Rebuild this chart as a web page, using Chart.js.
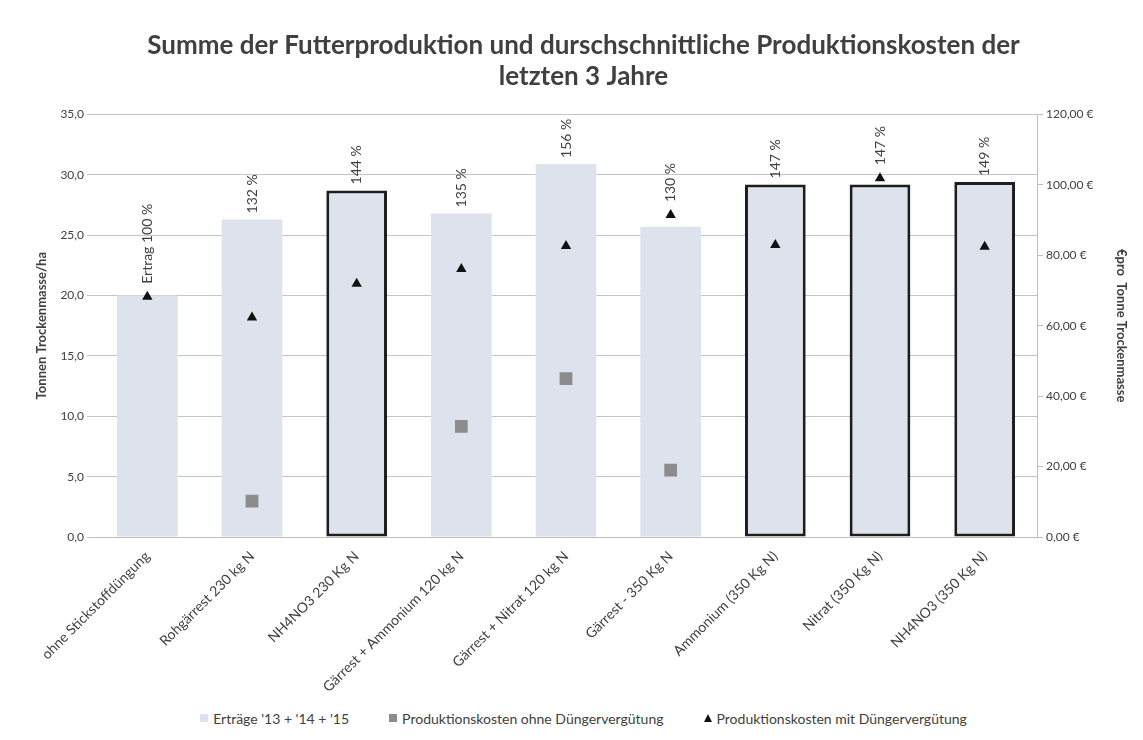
<!DOCTYPE html>
<html>
<head>
<meta charset="utf-8">
<script src="https://cdn.jsdelivr.net/npm/chart.js@4/dist/chart.umd.min.js"></script>
<style>
  body { margin: 0; background: #fff; font-family: Lato, 'Open Sans', sans-serif; }
  #box { width: 1143px; height: 700px; position: relative; }
  #legende { width: 1143px; height: 40px; display: flex; justify-content: center; align-items: center;
             gap: 40px; padding-left: 24px; box-sizing: border-box; font-size: 14px; color: #404040; margin-top: -2px; }
  #legende span.item { display: flex; align-items: center; white-space: nowrap; }
  #legende i { display: inline-block; margin-right: 5px; }
</style>
</head>
<body>
<div id="box"><canvas id="myChart"></canvas></div>
<div id="legende"></div>
<script>
// Kategorien (Düngervarianten)
const kategorien = [
    "ohne Stickstoffdüngung",
    "Rohgärrest 230 kg N",
    "NH4NO3 230 Kg N",
    "Gärrest + Ammonium 120 kg N",
    "Gärrest + Nitrat 120 kg N",
    "Gärrest - 350 Kg N",
    "Ammonium (350 Kg N)",
    "Nitrat (350 Kg N)",
    "NH4NO3 (350 Kg N)"
];

// Erträge in t TM/ha (Summe 3 Jahre)
const ertraege = [20.0, 26.3, 28.7, 26.8, 30.9, 25.7, 29.2, 29.2, 29.4];

// Kosten in € pro Tonne TM
const kostenOhne = [null, 10.2, null, 31.4, 45.0, 19.0, null, null, null];
const kostenMit = [68.2, 62.3, 71.9, 76.1, 82.6, 91.4, 82.9, 101.9, 82.4];

// Beschriftung über den Balken
const prozentLabels = ["Ertrag 100 %", "132 %", "144 %", "135 %", "156 %", "130 %", "147 %", "147 %", "149 %"];

const fontName = "Lato, 'Open Sans', sans-serif";
const grau = "#404040";

// zeichnet die Prozentwerte senkrecht über Balken/Dreieck
const prozentPlugin = {
    id: "prozent",
    afterDatasetsDraw(chart) {
        const ctx = chart.ctx;
        const balken = chart.getDatasetMeta(0).data;
        const dreiecke = chart.getDatasetMeta(2).data;
        ctx.save();
        ctx.font = "14px " + fontName;
        ctx.fillStyle = grau;
        ctx.textAlign = "left";
        ctx.textBaseline = "middle";
        balken.forEach((bar, i) => {
            const oben = Math.min(bar.y, dreiecke[i].y - 7) - 6;
            ctx.save();
            ctx.translate(bar.x, oben);
            ctx.rotate(-Math.PI / 2);
            ctx.fillText(prozentLabels[i], 0, 0);
            ctx.restore();
        });
        ctx.restore();
    }
};

const hervorgehoben = [2, 6, 7, 8];

const ctx = document.getElementById("myChart");
const chart = new Chart(ctx, {
    type: "bar",
    data: {
        labels: kategorien,
        datasets: [
            {
                label: "Erträge '13 + '14 + '15",
                data: ertraege,
                yAxisID: "y",
                backgroundColor: "#dde2ec",
                borderColor: "#1e1e1e",
                borderWidth: (c) => hervorgehoben.includes(c.dataIndex) ? 3 : 0,
                borderSkipped: false,
                barPercentage: 0.58,
                categoryPercentage: 1,
                order: 3
            },
            {
                type: "line",
                label: "Produktionskosten ohne Düngervergütung",
                data: kostenOhne,
                yAxisID: "y1",
                showLine: false,
                pointStyle: "rect",
                pointRadius: 9,
                backgroundColor: "#8c8c8c",
                borderColor: "#8c8c8c",
                borderWidth: 0,
                order: 2
            },
            {
                type: "line",
                label: "Produktionskosten mit Düngervergütung",
                data: kostenMit,
                yAxisID: "y1",
                showLine: false,
                pointStyle: "triangle",
                pointRadius: 6,
                backgroundColor: "#111",
                borderColor: "#111",
                borderWidth: 0,
                order: 1
            }
        ]
    },
    options: {
        responsive: true,
        maintainAspectRatio: false,
        animation: false,
        layout: { padding: { left: 34, right: 10, top: 0, bottom: 1 } },
        plugins: {
            title: {
                display: true,
                text: ["Summe der Futterproduktion und durschschnittliche Produktionskosten der", "letzten 3 Jahre"],
                color: grau,
                font: { family: fontName, size: 26, weight: "bold", lineHeight: 1.2 },
                padding: { top: 30, bottom: 22 }
            },
            legend: { display: false },
            tooltip: { enabled: false }
        },
        scales: {
            x: {
                grid: { display: false },
                border: { color: "#bdbdbd" },
                ticks: {
                    color: grau,
                    font: { family: fontName, size: 14 },
                    maxRotation: 45,
                    minRotation: 45,
                    autoSkip: false
                },
                afterFit: (s) => { s.height = 162; }
            },
            y: {
                position: "left",
                min: 0,
                max: 35,
                ticks: {
                    stepSize: 5,
                    color: grau,
                    font: { family: fontName, size: 12 },
                    callback: (v) => v.toFixed(1).replace(".", ",")
                },
                grid: { color: "#c4c4c4", tickLength: 8 },
                border: { display: false },
                title: {
                    display: true,
                    text: "Tonnen Trockenmasse/ha",
                    color: grau,
                    padding: { top: 0, bottom: 8 },
                    font: { family: fontName, size: 13, weight: "bold" }
                },
                afterFit: (s) => { s.width = 61; }
            },
            y1: {
                position: "right",
                min: 0,
                max: 120,
                ticks: {
                    stepSize: 20,
                    color: grau,
                    font: { family: fontName, size: 12 },
                    callback: (v) => v.toFixed(2).replace(".", ",") + " €"
                },
                grid: { drawOnChartArea: false, color: "#bdbdbd", tickLength: 6 },
                border: { color: "#bdbdbd" },
                title: {
                    display: true,
                    text: "€pro  Tonne Trockenmasse",
                    color: grau,
                    font: { family: fontName, size: 13, weight: "bold" }
                },
                afterFit: (s) => { s.width = 96; }
            }
        }
    },
    plugins: [prozentPlugin]
});

// Legende unter dem Diagramm aus den Datensätzen bauen
const legende = document.getElementById("legende");
chart.data.datasets.forEach((ds) => {
    const item = document.createElement("span");
    item.className = "item";
    const icon = document.createElement("i");
    if (ds.pointStyle === "triangle") {
        icon.style.cssText = "width:0;height:0;border-left:4px solid transparent;border-right:4px solid transparent;border-bottom:8px solid " + ds.backgroundColor;
    } else {
        icon.style.cssText = "width:8px;height:8px;background:" + ds.backgroundColor;
    }
    item.appendChild(icon);
    item.appendChild(document.createTextNode(ds.label));
    legende.appendChild(item);
});
</script>
</body>
</html>
